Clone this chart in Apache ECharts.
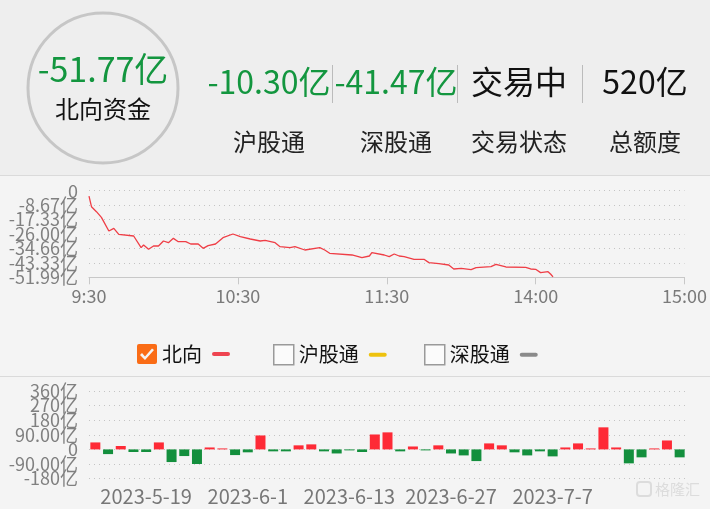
<!DOCTYPE html>
<html>
<head>
<meta charset="utf-8">
<script src="https://cdn.jsdelivr.net/npm/echarts@6/dist/echarts.min.js"></script>
<style>
html,body{margin:0;padding:0;background:#f4f4f4;}
#chart{width:710px;height:509px;}
</style>
</head>
<body>
<div id="chart"></div>
<script>
// ---- header values ----
const mainValue = '-51.77亿';
const mainLabel = '北向资金';
const headerValues = ['-10.30亿', '-41.47亿', '交易中', '520亿'];
const headerLabels = ['沪股通', '深股通', '交易状态', '总额度'];

// ---- intraday (minutes since 9:30, trading minutes) ----
const lineMinutes = [0,1,3,5,8,10,12,18,21,22,24,26,28,30,32,34,36,39,41,44,46,48,51,54,58,61,65,69,71,75,77,81,83,87,93,95,97,106,110,113,114,119,121,123,125,127,131,135,137,141,145,147,150,154,156,162,164,168,176,178,180,182,185,186,187];
const lineValues = [-3.2,-9.6,-12.6,-16.0,-24.2,-22.6,-26.2,-27.2,-34.2,-32.6,-35.2,-33.2,-33.2,-30.2,-31.2,-28.6,-30.6,-30.6,-32.0,-32.0,-34.6,-33.0,-32.0,-28.2,-26.0,-27.6,-29.0,-30.2,-29.8,-31.2,-33.6,-34.2,-33.6,-35.6,-34.2,-35.6,-37.6,-38.6,-40.2,-39.2,-37.2,-38.6,-39.6,-38.0,-39.2,-39.6,-41.2,-41.2,-43.2,-43.8,-44.6,-47.0,-46.6,-47.4,-46.2,-45.6,-44.2,-45.8,-46.0,-47.0,-47.2,-49.2,-48.6,-50.0,-51.77];
const timeTickLabels = ['9:30', '10:30', '11:30', '14:00', '15:00'];
const lineYTickLabels = ['-51.99亿', '-43.33亿', '-34.66亿', '-26.00亿', '-17.33亿', '-8.67亿', '0'];

// ---- daily net flow ----
const dates = ['2023-5-15','2023-5-16','2023-5-17','2023-5-18','2023-5-19','2023-5-22','2023-5-23','2023-5-24','2023-5-25','2023-5-29','2023-5-30','2023-5-31','2023-6-1','2023-6-2','2023-6-5','2023-6-6','2023-6-7','2023-6-8','2023-6-9','2023-6-12','2023-6-13','2023-6-14','2023-6-15','2023-6-16','2023-6-19','2023-6-20','2023-6-21','2023-6-26','2023-6-27','2023-6-28','2023-6-29','2023-6-30','2023-7-3','2023-7-4','2023-7-5','2023-7-6','2023-7-7','2023-7-10','2023-7-11','2023-7-12','2023-7-13','2023-7-14','2023-7-17','2023-7-18','2023-7-19','2023-7-20','2023-7-21'];
const dailyFlow = [43,-29,21,-16,-16,43,-78,-41,-90,12,6,-35,-18,86,-12,-12,25,31,-12,-25,-6,-16,92,105,-12,18,-6,25,-25,-37,-72,37,25,-18,-37,-12,-43,12,37,6,136,12,-86,-49,6,55,-49];
const barYTickLabels = ['-180亿', '-90.00亿', '0', '90.00亿', '180亿', '270亿', '360亿'];
const shownDateIdx = [4, 12, 20, 28, 36];

const FONT = '"Noto Sans CJK SC", "Noto Sans", sans-serif';
const chart = echarts.init(document.getElementById('chart'), null, {renderer: 'canvas'});

const lineData = lineMinutes.map((m, i) => [m, lineValues[i]]);

// axis scale settings
const lineMin = -51.99, lineStep = 8.665;
const barMin = -180, barStep = 90;
const lineTickVals = lineYTickLabels.map((_, i) => lineMin + i * lineStep);
const barTickVals = barYTickLabels.map((_, i) => barMin + i * barStep);

const graphics = [
  {type: 'rect', shape: {x: 0, y: 0, width: 710, height: 175}, style: {fill: '#eeeeee'}, z: -10, silent: true},
  {type: 'line', shape: {x1: 0, y1: 175.5, x2: 710, y2: 175.5}, style: {stroke: '#dadada', lineWidth: 1}},
  {type: 'line', shape: {x1: 0, y1: 376.5, x2: 710, y2: 376.5}, style: {stroke: '#dadada', lineWidth: 1}},
  {type: 'circle', shape: {cx: 103, cy: 88, r: 75}, style: {fill: 'none', stroke: '#c6c6c6', lineWidth: 3}},
  {type: 'text', x: 103, y: 69, style: {text: mainValue, font: '34px ' + FONT, fill: '#13963f', textAlign: 'center', textVerticalAlign: 'middle'}},
  {type: 'text', x: 103, y: 109, style: {text: mainLabel, font: '24px ' + FONT, fill: '#111', textAlign: 'center', textVerticalAlign: 'middle'}}
];
const colCenters = [269, 396, 519, 645];
const valueColors = ['#13963f', '#13963f', '#111', '#111'];
headerValues.forEach((v, i) => {
  graphics.push({type: 'text', x: colCenters[i], y: 82, style: {text: v, font: '32px ' + FONT, fill: valueColors[i], textAlign: 'center', textVerticalAlign: 'middle'}});
});
headerLabels.forEach((v, i) => {
  graphics.push({type: 'text', x: colCenters[i], y: 142, style: {text: v, font: '24px ' + FONT, fill: '#222', textAlign: 'center', textVerticalAlign: 'middle'}});
});
[332.5, 457.5, 582.5].forEach(x => {
  graphics.push({type: 'line', shape: {x1: x, y1: 65, x2: x, y2: 103}, style: {stroke: '#bbbbbb', lineWidth: 1}});
});
// watermark
graphics.push({type: 'rect', shape: {x: 637, y: 482, width: 14, height: 14, r: 3}, style: {fill: 'none', stroke: '#dcdcdc', lineWidth: 2}});
graphics.push({type: 'text', x: 655, y: 489, style: {text: '格隆汇', font: '15px ' + FONT, fill: '#dcdcdc', textAlign: 'left', textVerticalAlign: 'middle'}});

const checkIcon = 'path://M2,0 L18,0 Q20,0 20,2 L20,18 Q20,20 18,20 L2,20 Q0,20 0,18 L0,2 Q0,0 2,0 Z M3,11 L8,16 L17,6 L15,4.5 L8,12.5 L5,9 Z';

function legendCfg(name, left, iconCfg, dashColor) {
  return {
    top: 344, left: left, padding: 0, itemWidth: 20, itemHeight: 20, itemGap: 0,
    data: [Object.assign({name: name}, iconCfg)],
    formatter: n => n + '{s|}{d|}',
    textStyle: {fontSize: 20, fontFamily: FONT, color: '#111',
      rich: {s: {width: 10, height: 4}, d: {width: 18, height: 4, backgroundColor: dashColor, borderRadius: 2}}},
    selectedMode: false
  };
}

const yLabelBase = {fontSize: 18, fontFamily: FONT, color: '#808080', margin: 11, showMinLabel: true, showMaxLabel: true, hideOverlap: false};

// Build a y axis; labels split over two stacked axes (even / odd ticks) so overlapping labels all stay visible
function yAxisCfg(grid, min, step, labels, vals, parity, main) {
  return {
    type: 'value', gridIndex: grid, min: min, max: min + step * (labels.length - 1), interval: step,
    position: 'left', offset: 0,
    axisLine: {show: false}, axisTick: {show: false},
    splitLine: {show: main, lineStyle: {color: '#c4c4c4', type: [1, 4], width: 1}},
    axisLabel: Object.assign({}, yLabelBase, {
      customValues: vals.filter((_, i) => i % 2 === parity),
      formatter: v => labels[Math.round((v - min) / step)]
    })
  };
}

const option = {
  backgroundColor: '#f4f4f4',
  animation: false,
  graphic: graphics,
  legend: [
    legendCfg('北向', 137, {icon: checkIcon, itemStyle: {color: '#fa6c16'}}, '#ee4450'),
    legendCfg('沪股通', 273, {icon: 'rect', itemStyle: {color: '#fbfbfb', borderColor: '#9a9a9a', borderWidth: 1.5}}, '#eec20e'),
    legendCfg('深股通', 424, {icon: 'rect', itemStyle: {color: '#fbfbfb', borderColor: '#9a9a9a', borderWidth: 1.5}}, '#8a8a8a')
  ],
  grid: [
    {left: 89, right: 23, top: 190.7, height: 86.6},
    {left: 89, right: 24, top: 391, height: 87.6}
  ],
  xAxis: [
    {
      type: 'value', gridIndex: 0, min: 0, max: 240, interval: 60,
      axisLine: {show: true, onZero: false, lineStyle: {color: '#c8c8c8'}},
      axisTick: {show: true, length: 7, lineStyle: {color: '#c8c8c8'}},
      splitLine: {show: false},
      axisLabel: {fontSize: 18, fontFamily: FONT, color: '#7a7a7a', margin: 10, showMinLabel: true, showMaxLabel: true,
        formatter: v => timeTickLabels[Math.round(v / 60)]}
    },
    {
      type: 'category', gridIndex: 1, data: dates,
      axisLine: {show: false, onZero: false},
      axisTick: {show: false},
      axisLabel: {fontSize: 20, fontFamily: FONT, color: '#777', margin: 8,
        interval: (i) => shownDateIdx.indexOf(i) >= 0}
    }
  ],
  yAxis: [
    yAxisCfg(0, lineMin, lineStep, lineYTickLabels, lineTickVals, 0, true),
    yAxisCfg(1, barMin, barStep, barYTickLabels, barTickVals, 0, true),
    yAxisCfg(0, lineMin, lineStep, lineYTickLabels, lineTickVals, 1, false),
    yAxisCfg(1, barMin, barStep, barYTickLabels, barTickVals, 1, false)
  ],
  series: [
    {
      name: '北向', type: 'line', xAxisIndex: 0, yAxisIndex: 0, data: lineData,
      showSymbol: false, symbol: 'none', lineStyle: {color: '#ef3e46', width: 1.3}, itemStyle: {color: '#ef3e46'}
    },
    {name: '沪股通', type: 'line', xAxisIndex: 0, yAxisIndex: 0, data: [], symbol: 'none', itemStyle: {color: '#eec20e'}},
    {name: '深股通', type: 'line', xAxisIndex: 0, yAxisIndex: 0, data: [], symbol: 'none', itemStyle: {color: '#8a8a8a'}},
    {
      name: '净流入', type: 'bar', xAxisIndex: 1, yAxisIndex: 1, data: dailyFlow, barWidth: 10,
      itemStyle: {color: p => p.value >= 0 ? '#fe2a36' : '#138f3d'}
    }
  ]
};
chart.setOption(option);
</script>
</body>
</html>
